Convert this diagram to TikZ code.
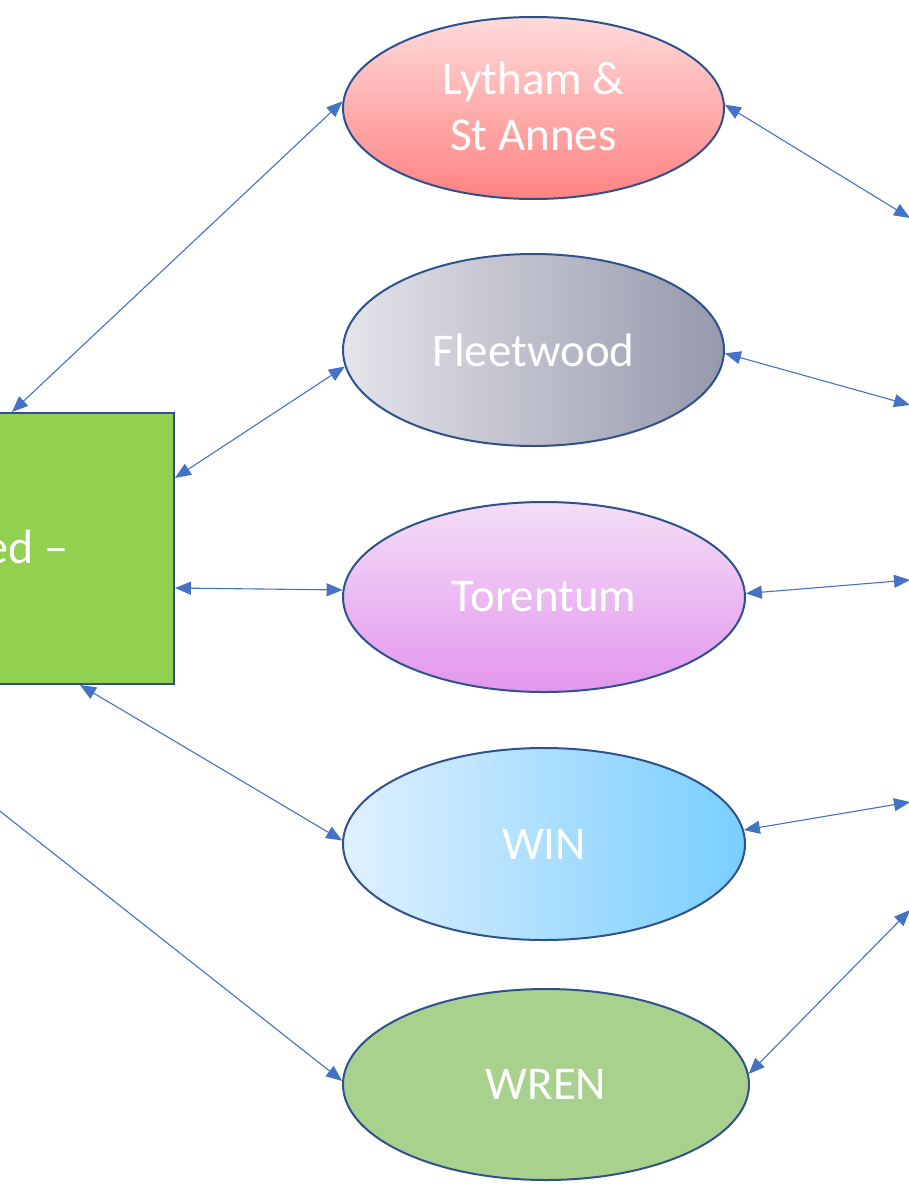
\documentclass[tikz,border=0pt]{standalone}
\usepackage{fontspec}
\setmainfont{Carlito}
\usetikzlibrary{shapes.geometric,arrows.meta}
\definecolor{edge}{HTML}{2F528F}
\definecolor{link}{HTML}{4472C4}
\definecolor{boxgreen}{HTML}{92D050}
\definecolor{wrengreen}{HTML}{A9D18E}
\tikzset{
  oval/.style={ellipse, draw=edge, line width=1pt, inner sep=0pt, text=white,
    font=\fontsize{23.5}{28}\selectfont, align=center},
  tip/.style={Triangle[length=8pt,width=6.5pt]},
  conn/.style={draw=link, line width=0.55pt, {Triangle[length=8pt,width=6.5pt]}-{Triangle[length=8pt,width=6.5pt]}},
  conn1/.style={draw=link, line width=0.55pt, -{Triangle[length=8pt,width=6.5pt]}},
}
\begin{document}
\begin{tikzpicture}[x=0.5pt,y=-0.5pt]
\useasboundingbox (0,0) rectangle (909,1189);
\clip (0,0) rectangle (909,1189);
\fill[white] (0,0) rectangle (909,1189);
% box (extends past the left edge)
\node[draw=edge, line width=1pt, fill=boxgreen, minimum width=237.5pt, minimum height=135.5pt, inner sep=0pt, anchor=north east] (box) at (175,412) {};
\node[text=white, inner sep=0pt, anchor=base east, font=\fontsize{24}{28}\selectfont] (boxtext) at (69,563) {ed –};
% ellipses
\node[oval, minimum width=190.5pt, minimum height=91pt, top color={rgb,255:red,255;green,218;blue,218}, bottom color={rgb,255:red,255;green,130;blue,130}] (lyt) at (533.5,108) {\raisebox{2pt}{Lytham \&}\\\raisebox{2pt}{St Annes}};
\node[oval, minimum width=190.5pt, minimum height=96pt, left color={rgb,255:red,228;green,228;blue,234}, right color={rgb,255:red,150;green,152;blue,172}] (flt) at (533.5,350) {Fleetwood};
\node[oval, minimum width=201pt, minimum height=95pt, top color={rgb,255:red,244;green,222;blue,247}, bottom color={rgb,255:red,226;green,150;blue,236}] (tor) at (544,597) {Torentum};
\node[oval, minimum width=201pt, minimum height=96pt, left color={rgb,255:red,224;green,240;blue,255}, right color={rgb,255:red,120;green,206;blue,255}] (win) at (544,844) {WIN};
\node[oval, minimum width=203pt, minimum height=95.5pt, fill=wrengreen] (wren) at (546,1084.5) {WREN};
% free ends beyond the right edge
\coordinate (r1) at (910,218);
\coordinate (r2) at (910,405);
\coordinate (r3) at (910,580);
\coordinate (r4) at (910,802);
\coordinate (r5) at (910,910);
% left connectors
\draw[conn] (box.north -| 12,0) -- (lyt.178.5);
\draw[conn] (box.east |- 0,478) -- (flt.185.4);
\draw[conn] (box.east |- 0,588) -- (tor.178.6);
\draw[conn] (box.south -| 80,0) -- (win.179.4);
\draw[conn1] (box.south -| -160,0) -- (wren.179.3);
% right connectors
\draw[conn] (lyt.1) -- (r1);
\draw[conn] (flt.359) -- (r2);
\draw[conn] (tor.1.4) -- (r3);
\draw[conn] (win.4) -- (r4);
\draw[conn] (wren.3.8) -- (r5);
\end{tikzpicture}
\end{document}
